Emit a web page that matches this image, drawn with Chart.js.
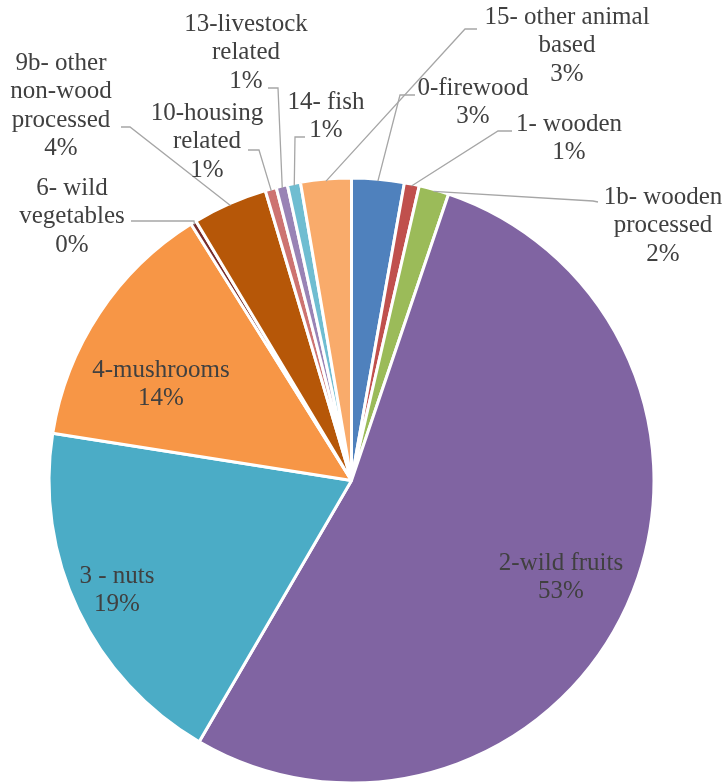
<!DOCTYPE html>
<html>
<head>
<meta charset="utf-8">
<script src="https://cdn.jsdelivr.net/npm/chart.js@4/dist/chart.umd.min.js"></script>
<style>
  html, body { margin: 0; padding: 0; background: #ffffff; }
  #wrap { width: 725px; height: 783px; }
</style>
</head>
<body>
<div id="wrap"><canvas id="c" width="725" height="783"></canvas></div>
<script>
// ---- data ----
const categories = [
  "0-firewood",
  "1- wooden",
  "1b- wooden processed",
  "2-wild fruits",
  "3 - nuts",
  "4-mushrooms",
  "6- wild vegetables",
  "9b- other non-wood processed",
  "10-housing related",
  "13-livestock related",
  "14- fish",
  "15- other animal based"
];
const shares = [2.8, 0.8, 1.6, 53.2, 19.1, 13.6, 0.3, 4.0, 0.6, 0.6, 0.7, 2.7];

// ---- styles ----
const sliceColors = [
  "#4F81BD", "#C0504D", "#9BBB59", "#8064A2", "#4BACC6", "#F79646",
  "#772C2A", "#B65708", "#CD7371", "#9983B5", "#6FBDD1", "#F9AB6B"
];
const FONT = "25px 'Liberation Serif', 'Times New Roman', serif";
const TEXT_COLOR = "#404040";
const LEADER_COLOR = "#A6A6A6";
const LINE_H = 28.5;

// label layout: text centre x, first line centre y, wrap width, leader points (text side)
const labelLayout = [
  { x: 473, y: 88,  wrap: 200, leader: [[415, 95], [400, 95]] },
  { x: 569, y: 124, wrap: 200, leader: [[512, 131], [498, 131]] },
  { x: 663, y: 197, wrap: 130, leader: [[598, 202], [593, 201]] },
  { x: 561, y: 563, wrap: 300, leader: null },
  { x: 117, y: 576, wrap: 300, leader: null },
  { x: 161, y: 370, wrap: 300, leader: null },
  { x: 72,  y: 188, wrap: 130, leader: [[131, 221], [194, 221]] },
  { x: 61,  y: 63,  wrap: 120, leader: [[121, 127], [130, 127]] },
  { x: 207, y: 113, wrap: 130, leader: [[248, 150], [259, 150]] },
  { x: 246, y: 24,  wrap: 140, leader: [[268, 88], [278, 88]] },
  { x: 326, y: 102, wrap: 200, leader: [[305, 137], [295, 137]] },
  { x: 567, y: 17,  wrap: 180, leader: [[477, 29], [465, 29]] }
];

function wrapText(ctx, text, maxW) {
  const words = text.split(" ");
  const lines = [];
  let cur = "";
  for (const w of words) {
    const test = cur ? cur + " " + w : w;
    if (cur && ctx.measureText(test).width > maxW) {
      lines.push(cur);
      cur = w;
    } else {
      cur = test;
    }
  }
  if (cur) lines.push(cur);
  return lines;
}

const labelPlugin = {
  id: "pieLabels",
  afterDatasetsDraw(chart) {
    const ctx = chart.ctx;
    const meta = chart.getDatasetMeta(0);
    const data = chart.data.datasets[0].data;
    const total = data.reduce((a, b) => a + b, 0);
    ctx.save();
    ctx.font = FONT;
    ctx.fillStyle = TEXT_COLOR;
    ctx.textAlign = "center";
    ctx.textBaseline = "middle";
    meta.data.forEach((arc, i) => {
      const lay = labelLayout[i];
      const p = arc.getProps(["x", "y", "startAngle", "endAngle", "outerRadius"], true);
      const mid = (p.startAngle + p.endAngle) / 2;
      if (lay.leader) {
        const ax = p.x + Math.cos(mid) * (p.outerRadius - 2);
        const ay = p.y + Math.sin(mid) * (p.outerRadius - 2);
        ctx.strokeStyle = LEADER_COLOR;
        ctx.lineWidth = 1.3;
        ctx.beginPath();
        ctx.moveTo(lay.leader[0][0], lay.leader[0][1]);
        for (let k = 1; k < lay.leader.length; k++) ctx.lineTo(lay.leader[k][0], lay.leader[k][1]);
        ctx.lineTo(ax, ay);
        ctx.stroke();
      }
      const pct = Math.round(data[i] / total * 100) + "%";
      const lines = wrapText(ctx, chart.data.labels[i], lay.wrap);
      lines.push(pct);
      lines.forEach((ln, k) => ctx.fillText(ln, lay.x, lay.y + k * LINE_H));
    });
    ctx.restore();
  }
};

new Chart(document.getElementById("c"), {
  type: "pie",
  data: {
    labels: categories,
    datasets: [{
      data: shares,
      backgroundColor: sliceColors,
      borderColor: "#ffffff",
      borderWidth: 3,
      radius: 302.5
    }]
  },
  options: {
    responsive: false,
    animation: false,
    events: [],
    layout: { padding: { top: 178, bottom: 0, left: 49, right: 71 } },
    plugins: {
      legend: { display: false },
      tooltip: { enabled: false }
    }
  },
  plugins: [labelPlugin]
});
</script>
</body>
</html>
